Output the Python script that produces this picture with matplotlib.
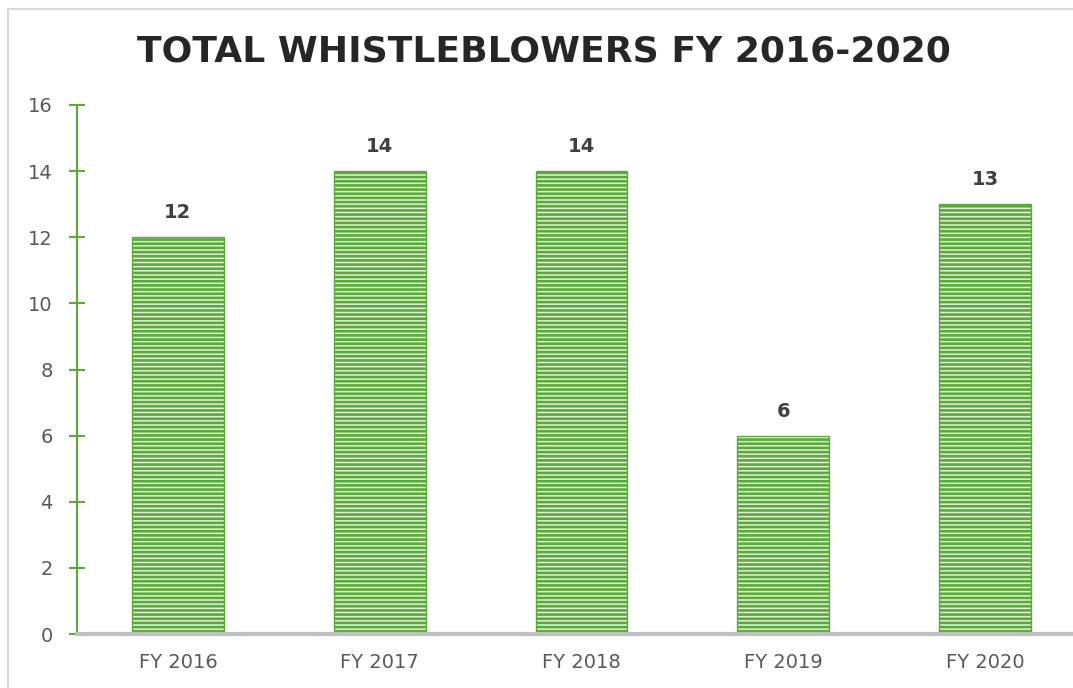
import numpy as np
import matplotlib.pyplot as plt
from matplotlib.patches import Rectangle

# Data
years = ['FY 2016', 'FY 2017', 'FY 2018', 'FY 2019', 'FY 2020']
counts = [12, 14, 14, 6, 13]
y_ticks = [0, 2, 4, 6, 8, 10, 12, 14, 16]

green = '#5aaa3a'
plt.rcParams['hatch.linewidth'] = 1.9

fig = plt.figure(figsize=(10.73, 6.88), dpi=100)
fig.patches.append(Rectangle((8 / 1073, -0.1), 1.2, (688 - 9) / 688 + 0.1,
                             transform=fig.transFigure, fill=False,
                             edgecolor='#d9d9d9', linewidth=1.5))

ax = fig.add_axes([77 / 1073, 54 / 688, 1009 / 1073, 529 / 688])
x = np.arange(len(years))
bars = ax.bar(x, counts, width=0.455, color='#e4f2dc', edgecolor=green,
              hatch='----', linewidth=1, zorder=2)

for xi, v in zip(x, counts):
    ax.text(xi, v + 0.45, str(v), ha='center', va='bottom', fontsize=14,
            fontweight='bold', color='#404040')

ax.set_xlim(-0.5, 4.5)
ax.set_ylim(0, 16)
ax.set_yticks(y_ticks)
ax.set_xticks(x)
ax.set_xticklabels(years)
ax.tick_params(axis='y', direction='inout', length=11, width=1.5, color=green,
               labelsize=14, labelcolor='#595959', pad=12)
ax.tick_params(axis='x', length=0, labelsize=14, labelcolor='#595959', pad=14)

for s in ['top', 'right']:
    ax.spines[s].set_visible(False)
ax.spines['left'].set_color(green)
ax.spines['left'].set_linewidth(1.5)
ax.spines['bottom'].set_color('#c0c0c0')
ax.spines['bottom'].set_linewidth(3)
ax.spines['bottom'].set_zorder(3)

fig.text(544 / 1073, 1 - 52 / 688, 'TOTAL WHISTLEBLOWERS FY 2016-2020',
         ha='center', va='center', fontsize=26, fontweight='bold',
         color='#262626')

fig.savefig('out.png', dpi=100)
